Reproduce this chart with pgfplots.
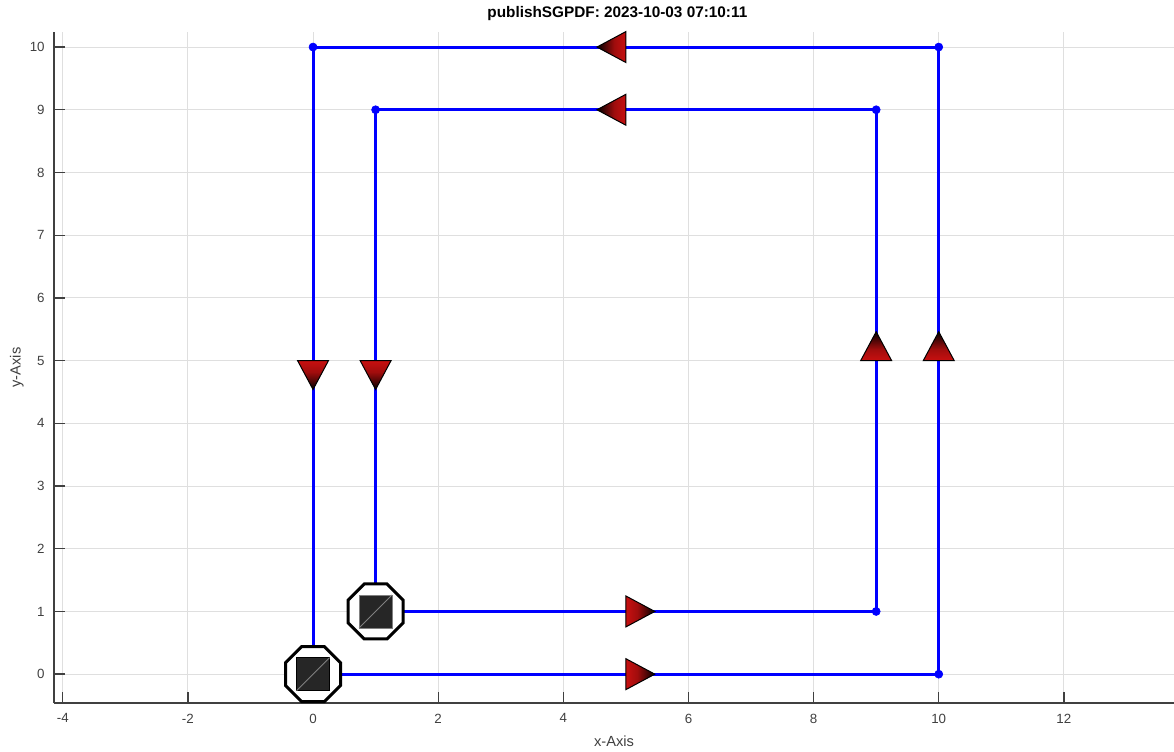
\documentclass[border=0pt]{standalone}
\usepackage{fontspec}
\setmainfont{Liberation Sans}
\usepackage{pgfplots}
\pgfplotsset{compat=1.18}
\definecolor{axgray}{HTML}{404040}
\definecolor{sqfill}{HTML}{262626}
\definecolor{arrred}{HTML}{C81010}
\definecolor{gridc}{HTML}{DFDFDF}

\pgfdeclareverticalshading{arrsh}{100bp}{color(0bp)=(arrred); color(25bp)=(arrred); color(45bp)=(arrred!80!black); color(75bp)=(black); color(100bp)=(black)}

\pgfdeclareplotmark{octo}{%
  \pgfpathmoveto{\pgfpointpolar{22.5}{\pgfplotmarksize}}%
  \pgfpathlineto{\pgfpointpolar{67.5}{\pgfplotmarksize}}%
  \pgfpathlineto{\pgfpointpolar{112.5}{\pgfplotmarksize}}%
  \pgfpathlineto{\pgfpointpolar{157.5}{\pgfplotmarksize}}%
  \pgfpathlineto{\pgfpointpolar{202.5}{\pgfplotmarksize}}%
  \pgfpathlineto{\pgfpointpolar{247.5}{\pgfplotmarksize}}%
  \pgfpathlineto{\pgfpointpolar{292.5}{\pgfplotmarksize}}%
  \pgfpathlineto{\pgfpointpolar{337.5}{\pgfplotmarksize}}%
  \pgfpathclose
  \pgfusepathqfillstroke}
% arrow triangles: base at the data point, tip in the direction of travel
\pgfdeclareplotmark{arrup}{%
  \pgfpathmoveto{\pgfqpoint{-\pgfplotmarksize}{0pt}}%
  \pgfpathlineto{\pgfqpoint{\pgfplotmarksize}{0pt}}%
  \pgfpathlineto{\pgfqpoint{0pt}{1.87\pgfplotmarksize}}%
  \pgfpathclose
  \pgfshadepath{arrsh}{0}%
  \pgfusepathqstroke}
\pgfdeclareplotmark{arrdown}{%
  \pgfpathmoveto{\pgfqpoint{-\pgfplotmarksize}{0pt}}%
  \pgfpathlineto{\pgfqpoint{\pgfplotmarksize}{0pt}}%
  \pgfpathlineto{\pgfqpoint{0pt}{-1.87\pgfplotmarksize}}%
  \pgfpathclose
  \pgfshadepath{arrsh}{180}%
  \pgfusepathqstroke}
\pgfdeclareplotmark{arrleft}{%
  \pgfpathmoveto{\pgfqpoint{0pt}{-\pgfplotmarksize}}%
  \pgfpathlineto{\pgfqpoint{0pt}{\pgfplotmarksize}}%
  \pgfpathlineto{\pgfqpoint{-1.87\pgfplotmarksize}{0pt}}%
  \pgfpathclose
  \pgfshadepath{arrsh}{90}%
  \pgfusepathqstroke}
\pgfdeclareplotmark{arrright}{%
  \pgfpathmoveto{\pgfqpoint{0pt}{-\pgfplotmarksize}}%
  \pgfpathlineto{\pgfqpoint{0pt}{\pgfplotmarksize}}%
  \pgfpathlineto{\pgfqpoint{1.87\pgfplotmarksize}{0pt}}%
  \pgfpathclose
  \pgfshadepath{arrsh}{-90}%
  \pgfusepathqstroke}
\pgfdeclareplotmark{sqd}{%
  \pgfpathrectangle{\pgfqpoint{-\pgfplotmarksize}{-\pgfplotmarksize}}{\pgfqpoint{2\pgfplotmarksize}{2\pgfplotmarksize}}%
  \pgfusepathqfillstroke
  \pgfsetlinewidth{0.6pt}%
  \pgfsetstrokecolor{gray}%
  \pgfpathmoveto{\pgfqpoint{-\pgfplotmarksize}{-\pgfplotmarksize}}%
  \pgfpathlineto{\pgfqpoint{\pgfplotmarksize}{\pgfplotmarksize}}%
  \pgfusepathqstroke}

\begin{document}
\begin{tikzpicture}
\begin{axis}[
 at={(0,0)}, anchor=south west,
 scale only axis, width=840pt, height=503.25pt,
 xmin=-4.14, xmax=13.76, ymin=-0.46, ymax=10.24,
 axis x line=bottom, axis y line=left,
 axis line style={-, axgray, line width=1pt},
 xtick={-4,-2,...,12}, ytick={0,1,...,10},
 tick align=inside, major tick length=8.4pt,
 tick style={axgray, line width=1pt},
 grid=major, major grid style={gridc, line width=0.75pt},
 ticklabel style={font=\fontsize{10}{12}\selectfont, text=axgray},
 /pgf/number format/assume math mode=true,
 xticklabel style={yshift=-4.5pt},
 yticklabel style={xshift=-3.5pt},
 xlabel={x-Axis}, ylabel={y-Axis},
 label style={font=\fontsize{11}{13}\selectfont, text=axgray},
 xlabel style={at={(axis description cs:0.5,-0.0576)}, anchor=center},
 ylabel style={at={(axis description cs:-0.0333,0.5)}, anchor=center},
 title={publishSGPDF: 2023-10-03 07:10:11},
 title style={font=\bfseries\fontsize{11.5}{13}\selectfont, at={(axis description cs:0.503,1.0298)}, anchor=center, yshift=-7.5pt},
 clip=false,
]
\addplot[only marks, mark=octo, mark size=22.3pt, mark options={draw=black, fill=white, line width=2.25pt}] coordinates {(0,0) (1,1)};
\addplot[blue, line width=2.25pt, mark=*, mark size=3pt, mark options={fill=blue, draw=blue, line width=0.5pt}] coordinates {(0,0) (10,0) (10,10) (0,10) (0,0)};
\addplot[blue, line width=2.25pt, mark=*, mark size=3pt, mark options={fill=blue, draw=blue, line width=0.5pt}] coordinates {(1,1) (9,1) (9,9) (1,9) (1,1)};
\addplot[only marks, mark=arrright, mark size=11.6pt, mark options={draw=black, line width=0.75pt}] coordinates {(5,0) (5,1)};
\addplot[only marks, mark=arrup, mark size=11.6pt, mark options={draw=black, line width=0.75pt}] coordinates {(10,5) (9,5)};
\addplot[only marks, mark=arrleft, mark size=11.6pt, mark options={draw=black, line width=0.75pt}] coordinates {(5,10) (5,9)};
\addplot[only marks, mark=arrdown, mark size=11.6pt, mark options={draw=black, line width=0.75pt}] coordinates {(0,5) (1,5)};
\addplot[only marks, mark=sqd, mark size=12.4pt, mark options={fill=sqfill, draw=black, line width=0.75pt}] coordinates {(0,0) (1,1)};
\end{axis}
\pgfresetboundingbox
\path (-40.5pt,-36pt) rectangle (840pt,527.25pt);
\end{tikzpicture}
\end{document}
